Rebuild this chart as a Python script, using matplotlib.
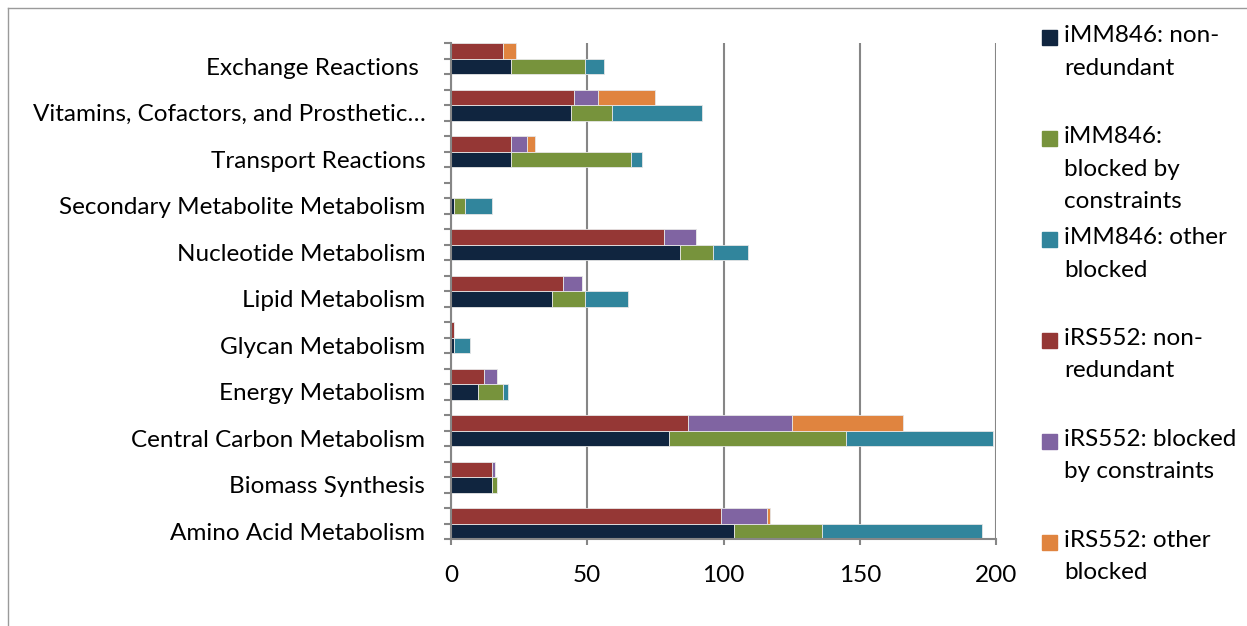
import numpy as np
import matplotlib.pyplot as plt
from matplotlib.patches import Rectangle
from matplotlib.lines import Line2D

plt.rcParams["font.family"] = ["Lato", "DejaVu Sans"]

# ===== data (bottom to top) =====
categories = [
    "Amino Acid Metabolism",
    "Biomass Synthesis",
    "Central Carbon Metabolism",
    "Energy Metabolism",
    "Glycan Metabolism",
    "Lipid Metabolism",
    "Nucleotide Metabolism",
    "Secondary Metabolite Metabolism",
    "Transport Reactions",
    "Vitamins, Cofactors, and Prosthetic\u2026",
    "Exchange Reactions ",
]
imm_nonred = [104, 15, 80, 10, 1, 37, 84, 1, 22, 44, 22]
imm_constr = [32, 2, 65, 9, 0, 12, 12, 4, 44, 15, 27]
imm_other = [59, 0, 54, 2, 6, 16, 13, 10, 4, 33, 7]
irs_nonred = [99, 15, 87, 12, 1, 41, 78, 0, 22, 45, 19]
irs_constr = [17, 1, 38, 5, 0, 7, 12, 0, 6, 9, 0]
irs_other = [1, 0, 41, 0, 0, 0, 0, 0, 3, 21, 5]

legend_labels = [
    "iMM846: non-\nredundant",
    "iMM846:\nblocked by\nconstraints",
    "iMM846: other\nblocked",
    "iRS552: non-\nredundant",
    "iRS552: blocked\nby constraints",
    "iRS552: other\nblocked",
]
colors = ["#10253F", "#77933C", "#31859C", "#953735", "#8064A2", "#E0843F"]

FS = 17.5
W, H = 1247, 626
fig = plt.figure(figsize=(W / 100, H / 100), dpi=100)
ax = fig.add_axes([451 / W, 1 - 539 / H, (996 - 451) / W, (539 - 43) / H])

base = np.arange(len(categories)) * 3
series_imm = [imm_nonred, imm_constr, imm_other]
series_irs = [irs_nonred, irs_constr, irs_other]

kw = dict(height=1.0, edgecolor="#e6e6e6", linewidth=0.6, zorder=3)
left = np.zeros(len(categories))
for vals, c in zip(series_imm, colors[:3]):
    ax.barh(base, vals, left=left, color=c, **kw)
    left += np.array(vals)
left = np.zeros(len(categories))
for vals, c in zip(series_irs, colors[3:]):
    ax.barh(base + 1, vals, left=left, color=c, **kw)
    left += np.array(vals)

grey = "#868686"
ax.set_xlim(0, 200)
ax.set_ylim(-0.5, base[-1] + 1.5)
ax.set_xticks([0, 50, 100, 150, 200])
ax.set_yticks(base)
ax.set_yticklabels(categories)
ax.set_yticks(np.arange(-0.5, base[-1] + 2, 1), minor=True)
ax.tick_params(axis="y", which="major", length=0, pad=18.5, labelsize=FS)
ax.tick_params(axis="y", which="minor", length=5, width=1.5, color=grey)
ax.tick_params(axis="x", length=4, width=1.5, color=grey, pad=15, labelsize=FS)

ax.xaxis.grid(True, color=grey, linewidth=1.5, zorder=0)
ax.set_axisbelow(True)
for s in ["top", "right"]:
    ax.spines[s].set_visible(False)
for s in ["left", "bottom"]:
    ax.spines[s].set_color(grey)
    ax.spines[s].set_linewidth(1.5)
    ax.spines[s].set_zorder(4)

# ===== legend =====
for i, (lab, c) in enumerate(zip(legend_labels, colors)):
    yc = 37.5 + i * 100.9
    fig.add_artist(Rectangle((1042 / W, 1 - (yc + 7.5) / H), 15 / W, 15 / H,
                             transform=fig.transFigure, color=c))
    fig.text(1064 / W, 1 - (yc - 12) / H, lab, fontsize=FS, va="top",
             ha="left", linespacing=1.66)

# frame lines
fig.add_artist(Line2D([8 / W, 1], [1 - 8 / H, 1 - 8 / H], color="#9a9a9a", lw=1))
fig.add_artist(Line2D([8 / W, 8 / W], [0, 1 - 8 / H], color="#9a9a9a", lw=1))

fig.savefig("out.png", dpi=100)
